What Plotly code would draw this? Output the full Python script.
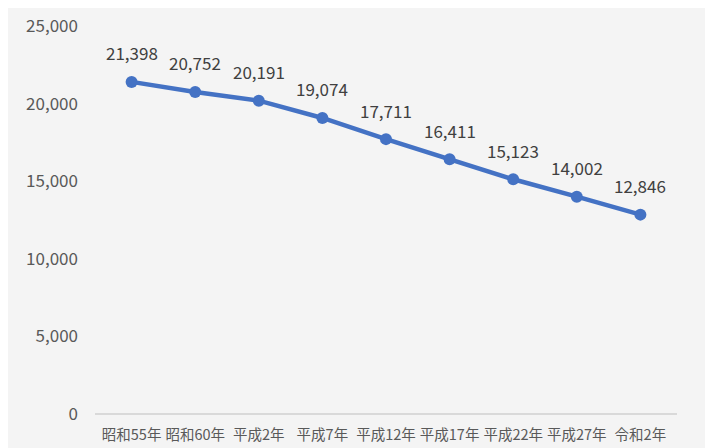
import plotly.graph_objects as go

categories = ["昭和55年", "昭和60年", "平成2年", "平成7年", "平成12年", "平成17年", "平成22年", "平成27年", "令和2年"]
values = [21398, 20752, 20191, 19074, 17711, 16411, 15123, 14002, 12846]
y_ticks = [0, 5000, 10000, 15000, 20000, 25000]

fig = go.Figure()
fig.add_trace(go.Scatter(
    x=categories, y=values, mode="lines+markers",
    line=dict(color="#4472C4", width=4.5),
    marker=dict(color="#4472C4", size=12),
    cliponaxis=False,
))

# data labels above each point
for c, v in zip(categories, values):
    fig.add_annotation(x=c, y=v, text=f"{v:,}", showarrow=False, yshift=29,
                       font=dict(size=17, color="#404040"))

fig.update_layout(
    width=705, height=440,
    margin=dict(l=87, r=36, t=18, b=34),
    paper_bgcolor="#f4f4f4", plot_bgcolor="rgba(0,0,0,0)",
    showlegend=False,
    font=dict(family="Noto Sans CJK JP, Noto Sans, sans-serif", color="#595959"),
)
fig.update_xaxes(showgrid=False, showline=False, ticks="", tickfont=dict(size=14.5),
                 zeroline=False, automargin=False, ticklabelstandoff=10, tickangle=0)
fig.update_yaxes(range=[0, 25000], tickvals=y_ticks, tickformat=",", showgrid=False,
                 zeroline=True, zerolinecolor="#d9d9d9", zerolinewidth=2,
                 tickfont=dict(size=17), ticklabelstandoff=16, automargin=False)

fig.write_html("out.html")
